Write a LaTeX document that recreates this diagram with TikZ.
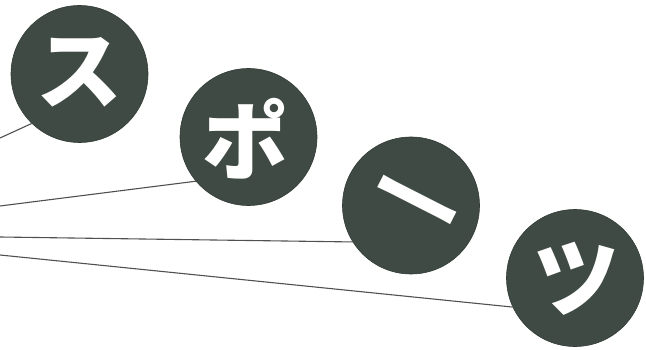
\documentclass[tikz,border=0pt]{standalone}
\usepackage{fontspec}
\newfontfamily\cjk{Noto Sans CJK JP}
\definecolor{disc}{HTML}{3F4A44}
\definecolor{wire}{HTML}{505050}
\begin{document}
\begin{tikzpicture}[x=1pt,y=-1pt,
  disk/.style={circle,fill=disc,draw=disc!80!black,line width=0.6pt,minimum size=137pt,inner sep=0pt},
  kana/.style={text=white,font=\cjk\bfseries\fontsize{86}{86}\selectfont,inner sep=0pt,anchor=center},
  wireline/.style={draw=wire,line width=1.1pt}]
\useasboundingbox (0,0) rectangle (646,350);
\node[disk] (n1) at (79.5,74) {};
\node[disk] (n2) at (248.5,137) {};
\node[disk] (n3) at (411,205.5) {};
\node[disk] (n4) at (575,278) {};
\node[kana] (t1) at (79.5,72) {ス};
\node[kana] (t2) at (245,139) {ポ};
\node[kana,rotate=-27,xscale=1.15,yscale=0.85] (t3) at (413,209) {ー};
\node[kana] (t4) at (576,279) {ツ};
\coordinate (s1) at (0,138);
\coordinate (s2) at (0,206);
\coordinate (s3) at (0,237);
\coordinate (s4) at (0,255);
\draw[wireline] (s1) -- (n1.226.5);
\draw[wireline] (s2) -- (n2.220.7);
\draw[wireline] (s3) -- (n3.212.4);
\draw[wireline] (s4) -- (n4.205.5);
\end{tikzpicture}
\end{document}
